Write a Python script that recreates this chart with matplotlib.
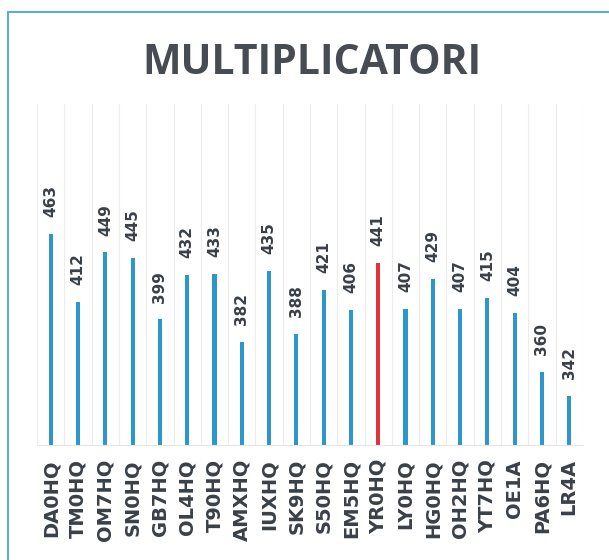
import matplotlib.pyplot as plt
from matplotlib.patches import Rectangle
import numpy as np

stations = ["DA0HQ", "TM0HQ", "OM7HQ", "SN0HQ", "GB7HQ", "OL4HQ", "T90HQ",
            "AMXHQ", "IUXHQ", "SK9HQ", "S50HQ", "EM5HQ", "YR0HQ", "LY0HQ",
            "HG0HQ", "OH2HQ", "YT7HQ", "OE1A", "PA6HQ", "LR4A"]
multipliers = [463, 412, 449, 445, 399, 432, 433, 382, 435, 388, 421, 406,
               441, 407, 429, 407, 415, 404, 360, 342]
highlight = "YR0HQ"

blue = "#2b97cc"
red = "#e2323c"
text_col = "#3a4048"

plt.rcParams['font.family'] = ['DejaVu Sans']

fig = plt.figure(figsize=(6.09, 5.6), dpi=100)
fig.patches.append(Rectangle((8 / 609, -0.05), 1.1, 1 - 12 / 560 + 0.05,
                             transform=fig.transFigure, fill=False,
                             edgecolor="#5aaed8", linewidth=1.5))

ax = fig.add_axes([0.061, 0.205, 0.896, 0.61])
x = np.arange(len(stations))
colors = [red if s == highlight else blue for s in stations]
ax.bar(x, multipliers, width=0.15, color=colors)

# value labels above each bar, rotated like the tick labels
for xi, v in zip(x, multipliers):
    ax.annotate(str(v), (xi, v), xytext=(0, 12), textcoords="offset points",
                rotation=90, ha="center", va="bottom", fontsize=11,
                fontweight="bold", color=text_col)

ax.set_ylim(305, 560)
ax.set_xlim(-0.5, len(stations) - 0.5)
ax.set_xticks(x)
ax.set_xticklabels(stations, rotation=90, fontsize=14, fontweight="bold",
                   color=text_col)
ax.set_xticks(np.arange(-0.5, len(stations), 1), minor=True)
ax.grid(True, axis="x", which="minor", color="#ececec", linewidth=0.8)
ax.tick_params(axis="x", which="both", length=0, pad=10)
ax.set_yticks([])
for side in ["top", "left", "right"]:
    ax.spines[side].set_visible(False)
ax.spines["bottom"].set_color("#e6e6e6")

fig.text(0.512, 0.887, "MULTIPLICATORI", ha="center", va="center",
         fontsize=29.5, fontweight="bold", color="#464c52",
         family=["Open Sans", "DejaVu Sans"])

fig.savefig("out.png", dpi=100)
